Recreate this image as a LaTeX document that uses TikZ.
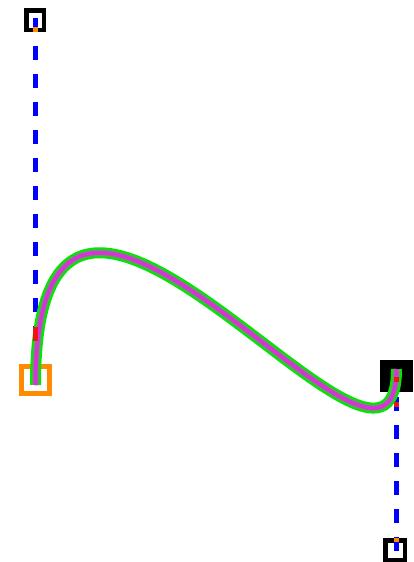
\documentclass[tikz,border=0pt]{standalone}
\begin{document}
\begin{tikzpicture}[x=1pt,y=-1pt]
\definecolor{cgreen}{RGB}{0,232,0}
\definecolor{cgray}{RGB}{96,160,96}
\definecolor{cmag}{RGB}{214,52,214}
\definecolor{cred}{RGB}{236,20,20}
\definecolor{corange}{RGB}{255,140,0}
\definecolor{cblue}{RGB}{0,0,255}
\tikzset{
  ctrlbox/.style={draw=black,fill=white,line width=4.5pt,inner sep=0pt},
  handle/.style={draw=cblue,line width=5pt,dash pattern=on 14pt off 14pt},
  tick/.style={fill=corange,inner sep=0pt,minimum width=5pt,minimum height=4.5pt},
  redmark/.style={fill=cred,inner sep=0pt,minimum width=5pt},
}
\useasboundingbox (0,0) rectangle (414,562);
% points
\coordinate (P0) at (35.5,385);
\coordinate (P1) at (35.5,18);
\coordinate (P2) at (396.5,551);
\coordinate (P3) at (396.5,369);
% control point boxes
\node[ctrlbox,minimum width=17.5pt,minimum height=19.5pt] (c1) at (35,20) {};
\node[ctrlbox,minimum width=19.5pt,minimum height=19.5pt] (c2) at (395,550) {};
% handles
\draw[handle] (P1) -- (P0);
\draw[handle] (P3) -- (P2);
\node[tick] (t1) at (35.5,29.5) {};
\node[tick] (t2) at (396.5,540) {};
% end point markers
\node[draw=corange,line width=5pt,inner sep=0pt,minimum width=28pt,minimum height=27pt] (s0) at (35.5,380) {};
\node[fill=black,inner sep=0pt,minimum width=33pt,minimum height=32pt] (s3) at (396.5,376) {};
% curve
\draw[cgreen,line width=11pt] (P0) .. controls (P1) and (P2) .. (P3);
\draw[cgray,line width=7pt] (P0) .. controls (P1) and (P2) .. (P3);
\draw[cmag,line width=4pt] (P0) .. controls (P1) and (P2) .. (P3);
% red marks
\node[redmark,minimum height=14pt] (r1) at (35.5,334) {};
\node[redmark,minimum height=5pt] (r2) at (396.5,379.5) {};
\node[redmark,minimum height=5pt] (r3) at (396.5,404.5) {};
\end{tikzpicture}
\end{document}
